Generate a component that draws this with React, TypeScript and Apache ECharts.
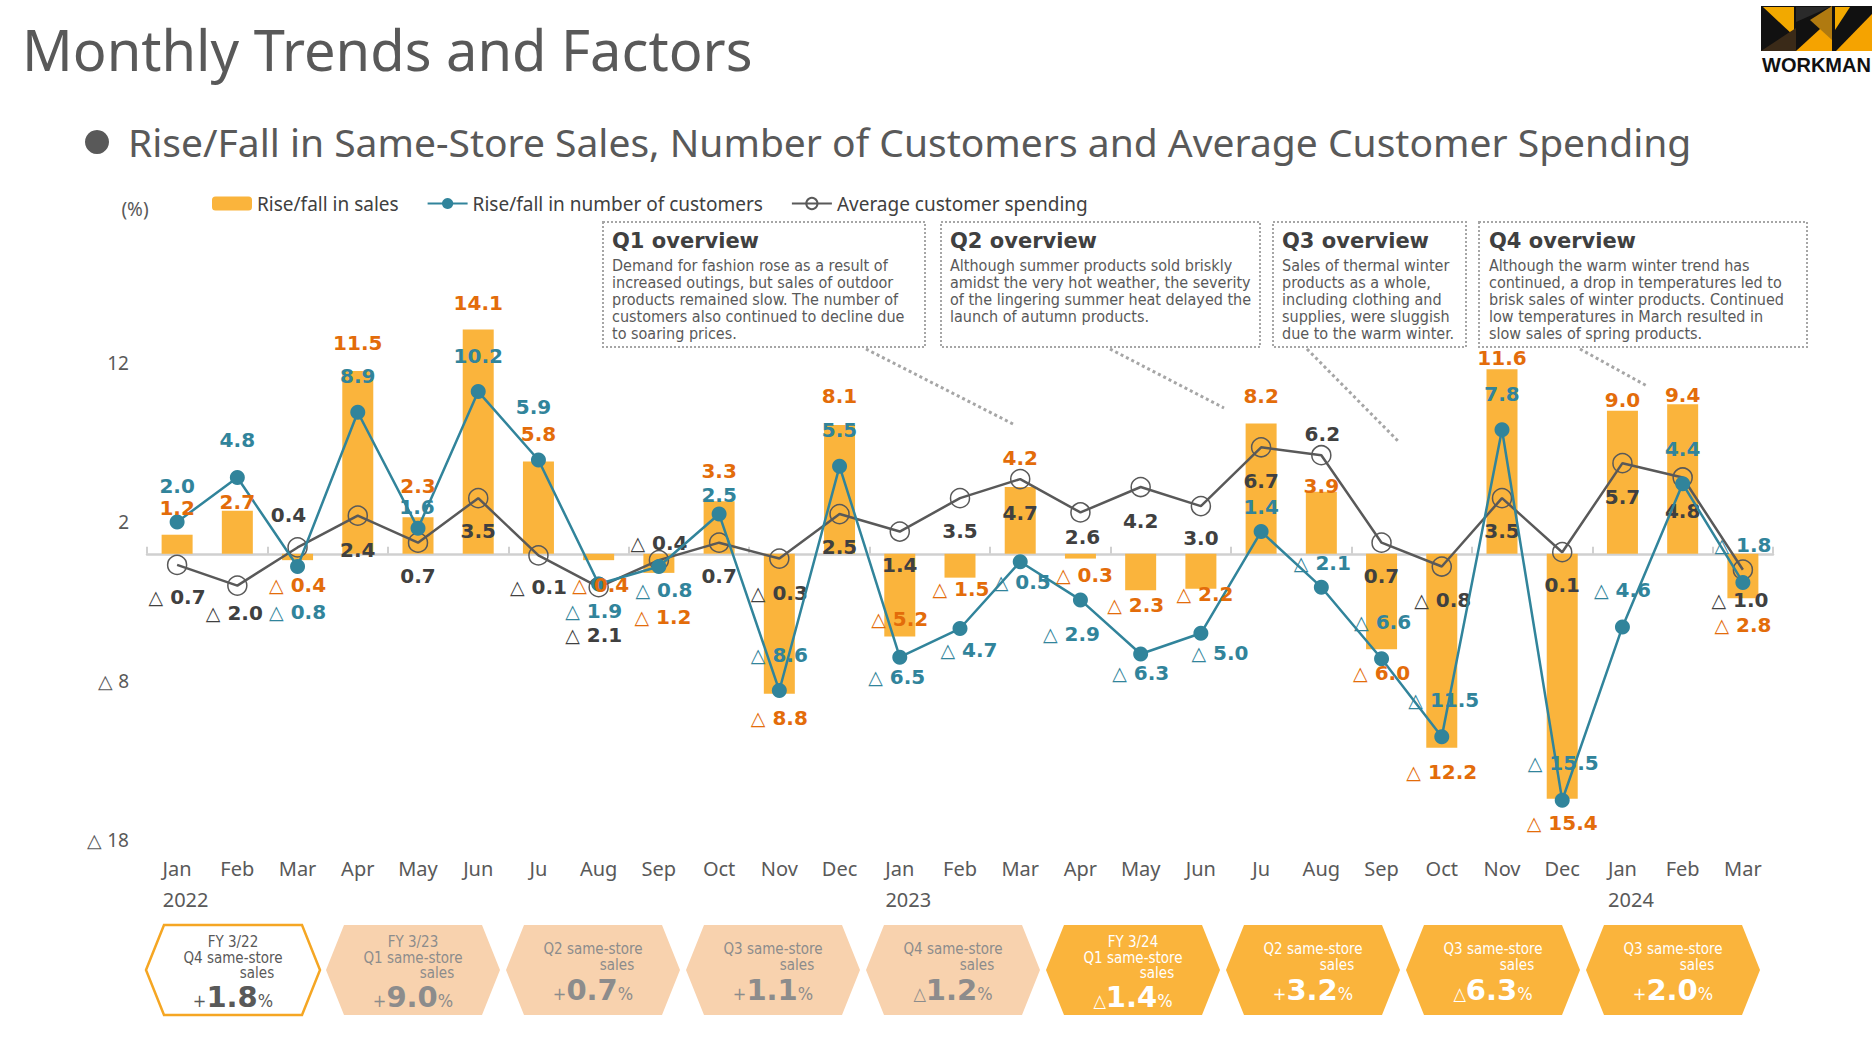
import React, { useEffect, useRef } from "react";
import * as echarts from "echarts";

// ---------- DATA ----------
const months = ["Jan","Feb","Mar","Apr","May","Jun","Ju","Aug","Sep","Oct","Nov","Dec","Jan","Feb","Mar","Apr","May","Jun","Ju","Aug","Sep","Oct","Nov","Dec","Jan","Feb","Mar"];
const years = ["2022", "2023", "2024"];
const salesChange = [1.2, 2.7, -0.4, 11.5, 2.3, 14.1, 5.8, -0.4, -1.2, 3.3, -8.8, 8.1, -5.2, -1.5, 4.2, -0.3, -2.3, -2.2, 8.2, 3.9, -6.0, -12.2, 11.6, -15.4, 9.0, 9.4, -2.8];
const customersChange = [2.0, 4.8, -0.8, 8.9, 1.6, 10.2, 5.9, -1.9, -0.8, 2.5, -8.6, 5.5, -6.5, -4.7, -0.5, -2.9, -6.3, -5.0, 1.4, -2.1, -6.6, -11.5, 7.8, -15.5, -4.6, 4.4, -1.8];
const avgSpending = [-0.7, -2.0, 0.4, 2.4, 0.7, 3.5, -0.1, -2.1, -0.4, 0.7, -0.3, 2.5, 1.4, 3.5, 4.7, 2.6, 4.2, 3.0, 6.7, 6.2, 0.7, -0.8, 3.5, 0.1, 5.7, 4.8, -1.0];
const yTicks = { min: -18, max: 22, interval: 10 };

const hexTopLines = ["FY 3/22", "FY 3/23", "", "", "", "FY 3/24", "", "", ""];
const hexQuarters = ["Q4 same-store", "Q1 same-store", "Q2 same-store", "Q3 same-store", "Q4 same-store", "Q1 same-store", "Q2 same-store", "Q3 same-store", "Q3 same-store"];
const hexValues = [1.8, 9.0, 0.7, 1.1, -1.2, -1.4, 3.2, -6.3, 2.0];

const qTitles = ["Q1 overview", "Q2 overview", "Q3 overview", "Q4 overview"];
const qBodies = [
  ["Demand for fashion rose as a result of", "increased outings, but sales of outdoor", "products remained slow. The number of", "customers also continued to decline due", "to soaring prices."],
  ["Although summer products sold briskly", "amidst the very hot weather, the severity", "of the lingering summer heat delayed the", "launch of autumn products."],
  ["Sales of thermal winter", "products as a whole,", "including clothing and", "supplies, were sluggish", "due to the warm winter."],
  ["Although the warm winter trend has", "continued, a drop in temperatures led to", "brisk sales of winter products. Continued", "low temperatures in March resulted in", "slow sales of spring products."],
];

// ---------- LAYOUT (label offsets in px, relative to each point) ----------
const salesLabelDx = [0,0,0,0,0,0,0,2,4,0,0,0,0,1,0,4,-5,4,0,0,0,0,0,0,0,0,0];
const salesLabelDy = [-27,-9,25,-28,-31,-27,-28,25,44,-30,24,-29,-17,11,-29,16,15,5,-27,-6,24,24,-11,24,-11,-9,27];
const custLabelDx = [0,0,0,0,-1,0,-5,-5,5,0,0,0,-3,9,2,-9,0,19,0,1,1,2,0,1,0,0,0];
const custLabelDy = [-36,-37,45,-36,-21,-36,-53,27,23,-19,-36,-36,20,21,20,34,19,20,-25,-24,-37,-37,-36,-37,-37,-35,-37];
const avgLabelDx = [0,-3,-9,0,0,0,0,-5,0,0,0,0,0,0,0,2,0,0,0,1,0,1,0,0,0,0,-3];
const avgLabelDy = [32,27,-32,34,33,33,32,48,-17,33,34,33,33,33,34,25,34,32,34,-21,33,33,33,33,34,34,30];

const qBoxes = [
  { x: 603, w: 322, tx: 612 },
  { x: 941, w: 319, tx: 950 },
  { x: 1273, w: 193, tx: 1282 },
  { x: 1479, w: 328, tx: 1489 },
];
const leaders = [
  [866, 349, 1015, 425],
  [1110, 349, 1224, 408],
  [1307, 349, 1399, 442],
  [1580, 349, 1647, 386],
];

const C_BAR = "#FAB43C";
const C_SALES = "#E36C0A";
const C_CUST = "#31849B";
const C_AVG = "#595959";
const C_AVG_LBL = "#404040";
const C_TEXT = "#595959";
const LBL_FONT = "'DejaVu Sans', Verdana, sans-serif";
const BODY_FONT = "'DejaVu Sans Condensed', 'DejaVu Sans', sans-serif";
const UI_FONT = "'Noto Sans', 'Open Sans', sans-serif";

function fmtVal(v: number) {
  return v < 0 ? `{t|△} ${Math.abs(v).toFixed(1)}` : v.toFixed(1);
}

function labelStyle(color: string) {
  return {
    show: true,
    position: "inside",
    color,
    opacity: 1,
    fontFamily: LBL_FONT,
    fontWeight: "bold",
    fontSize: 20,
    formatter: (p: any) => fmtVal(typeof p.value === "number" ? p.value : Number(p.value)),
    rich: { t: { color, fontWeight: "normal", fontSize: 19, fontFamily: LBL_FONT } },
  };
}

function buildGraphics() {
  const g: any[] = [];
  // Title
  g.push({ type: "text", x: 22, y: 49, style: { text: "Monthly Trends and Factors", fontFamily: UI_FONT, fontSize: 56, fill: C_TEXT, verticalAlign: "middle" } });
  // Orange underline
  g.push({
    type: "line", shape: { x1: 10, y1: 87, x2: 1872, y2: 87 },
    style: { lineWidth: 2.5, stroke: new echarts.graphic.LinearGradient(0, 0, 1, 0, [
      { offset: 0, color: "#F0900C" }, { offset: 0.7, color: "#F39A22" }, { offset: 1, color: "#FFF4E8" }]) },
  });
  // Logo
  g.push({ type: "rect", shape: { x: 1761, y: 6, width: 111, height: 45 }, style: { fill: "#111" } });
  g.push({ type: "polygon", shape: { points: [[1763, 7], [1794, 7], [1794, 36]] }, style: { fill: "#F2A900" } });
  g.push({ type: "polygon", shape: { points: [[1761, 51], [1796, 28], [1796, 51]] }, style: { fill: "#3A2A18" } });
  g.push({ type: "polygon", shape: { points: [[1796, 51], [1832, 18], [1832, 51]] }, style: { fill: "#F5A300" } });
  g.push({ type: "polygon", shape: { points: [[1810, 20], [1832, 6], [1832, 40]] }, style: { fill: "#B07A10" } });
  g.push({ type: "polygon", shape: { points: [[1835, 7], [1850, 7], [1835, 30]] }, style: { fill: "#F2A900" } });
  g.push({ type: "polygon", shape: { points: [[1836, 51], [1872, 14], [1872, 51]] }, style: { fill: "#F5A300" } });
  g.push({ type: "polygon", shape: { points: [[1796, 7], [1830, 7], [1796, 22]] }, style: { fill: "#2A2A2A" } });
  g.push({ type: "text", x: 1762, y: 75, style: { text: "WORKMAN", fontFamily: "'Liberation Sans', Arial, sans-serif", fontWeight: "bold", fontSize: 20, fill: "#111", verticalAlign: "bottom" } });
  // Subtitle
  g.push({ type: "circle", shape: { cx: 97, cy: 142, r: 12 }, style: { fill: C_TEXT } });
  g.push({ type: "text", x: 128, y: 141, style: { text: "Rise/Fall in Same-Store Sales, Number of Customers and Average Customer Spending", fontFamily: UI_FONT, fontSize: 39, fill: C_TEXT, verticalAlign: "middle" } });
  // (%)
  g.push({ type: "text", x: 135, y: 209, style: { text: "(%)", fontFamily: UI_FONT, fontSize: 19, fill: C_TEXT, align: "center", verticalAlign: "middle" } });
  // Overview boxes
  qBoxes.forEach((b, i) => {
    g.push({ type: "rect", shape: { x: b.x, y: 222, width: b.w, height: 125 }, style: { fill: "#fff", stroke: "#A6A6A6", lineWidth: 2, lineDash: [2, 2] }, z: 10 });
    g.push({ type: "text", x: b.tx, y: 241, z: 11, style: { text: qTitles[i], fontFamily: LBL_FONT, fontWeight: "bold", fontSize: 21, fill: "#404040", verticalAlign: "middle" } });
    g.push({ type: "text", x: b.tx, y: 257, z: 11, style: { text: qBodies[i].join("\n"), fontFamily: BODY_FONT, fontSize: 16, lineHeight: 17, fill: C_TEXT, verticalAlign: "top" } });
  });
  leaders.forEach((l) => {
    g.push({ type: "line", z: 9, shape: { x1: l[0], y1: l[1], x2: l[2], y2: l[3] }, style: { stroke: "#A6A6A6", lineWidth: 3, lineDash: [3, 3] } });
  });
  // Hexagons
  const cy = 970, hw = 87, hh = 45, inset = 18;
  hexValues.forEach((v, i) => {
    const cx = 233 + i * 180;
    const kind = i === 0 ? "outline" : i < 5 ? "peach" : "orange";
    const fill = kind === "outline" ? "#fff" : kind === "peach" ? "#F8D2AE" : C_BAR;
    const stroke = kind === "outline" ? "#F5A623" : "none";
    const tcol = kind === "outline" ? "#595959" : kind === "peach" ? "#8C8C8C" : "#fff";
    g.push({
      type: "polygon",
      shape: { points: [[cx - hw, cy], [cx - hw + inset, cy - hh], [cx + hw - inset, cy - hh], [cx + hw, cy], [cx + hw - inset, cy + hh], [cx - hw + inset, cy + hh]] },
      style: { fill, stroke, lineWidth: 2.5 },
    });
    const three = hexTopLines[i] !== "";
    const base = three ? -28 : -21;
    const small = { fontFamily: BODY_FONT, fontSize: 15, fill: tcol, align: "center", verticalAlign: "middle" };
    if (three) g.push({ type: "text", x: cx, y: cy + base, style: { ...small, text: hexTopLines[i] } });
    g.push({ type: "text", x: cx, y: cy + base + (three ? 16 : 0), style: { ...small, text: hexQuarters[i] } });
    g.push({ type: "text", x: cx + 24, y: cy + base + (three ? 31 : 16), style: { ...small, text: "sales" } });
    const sign = v < 0 ? "△" : "+";
    g.push({
      type: "text", x: cx, y: cy + (three ? 27 : 20),
      style: {
        text: `{s|${sign}}{b|${Math.abs(v).toFixed(1)}}{p|%}`,
        align: "center", verticalAlign: "middle", fill: tcol,
        rich: {
          s: { fontFamily: BODY_FONT, fontSize: 18, fill: tcol, verticalAlign: "bottom", padding: [0, 0, 2, 0] },
          b: { fontFamily: LBL_FONT, fontWeight: "bold", fontSize: 29, fill: tcol, verticalAlign: "bottom" },
          p: { fontFamily: BODY_FONT, fontSize: 18, fill: tcol, verticalAlign: "bottom", padding: [0, 0, 2, 0] },
        },
      },
    });
  });
  return g;
}

export default function App() {
  const ref = useRef<HTMLDivElement>(null);
  useEffect(() => {
    document.body.style.margin = "0";
    document.body.style.overflow = "hidden";
    const chart = echarts.init(ref.current!, null, { renderer: "svg" });
    const categories = months.map((m, i) => (i % 12 === 0 ? `{m|${m}}\n{y|${years[i / 12]}}` : `{m|${m}}`));
    const option: any = {
      animation: false,
      backgroundColor: "#fff",
      textStyle: { fontFamily: UI_FONT },
      legend: {
        left: 207, top: 189, itemWidth: 40, itemHeight: 14, itemGap: 28,
        textStyle: { fontSize: 19, color: "#404040", fontFamily: UI_FONT },
        data: ["Rise/fall in sales", "Rise/fall in number of customers", "Average customer spending"],
      },
      grid: { left: 147, width: 1626, top: 204, height: 636 },
      xAxis: [
        {
          type: "category", data: categories, position: "bottom",
          axisLine: { onZero: true, lineStyle: { color: "#D0D0D0", width: 2.5 } },
          axisTick: { show: true, inside: true, length: 7, lineStyle: { color: "#D0D0D0", width: 2 } },
          axisLabel: { show: false }, splitLine: { show: false },
        },
        {
          type: "category", data: categories, position: "bottom",
          axisLine: { show: false, onZero: false }, axisTick: { show: false },
          axisLabel: {
            interval: 0, margin: 13, color: C_TEXT,
            rich: {
              m: { fontSize: 20, lineHeight: 31, color: C_TEXT, fontFamily: UI_FONT },
              y: { fontSize: 20, lineHeight: 31, color: C_TEXT, fontFamily: UI_FONT, padding: [0, 0, 0, 17] },
            },
          },
        },
      ],
      yAxis: {
        type: "value", min: yTicks.min, max: yTicks.max, interval: yTicks.interval,
        axisLine: { show: false }, axisTick: { show: false }, splitLine: { show: false },
        axisLabel: {
          margin: 18, color: C_TEXT, fontSize: 19, fontFamily: UI_FONT,
          formatter: (v: number) => (v === yTicks.max ? "" : v < 0 ? `△ ${-v}` : String(v)),
        },
      },
      series: [
        {
          name: "Rise/fall in sales", type: "bar", data: salesChange, barWidth: 31, z: 2,
          itemStyle: { color: C_BAR },
        },
        {
          name: "Average customer spending", type: "line", z: 3,
          data: avgSpending.map((v, i) => ({ value: v, label: { offset: [avgLabelDx[i], avgLabelDy[i]] } })),
          symbol: "circle", symbolSize: 19,
          lineStyle: { color: C_AVG, width: 2.5 },
          itemStyle: { color: "rgba(255,255,255,0)", borderColor: C_AVG, borderWidth: 1.5 },
          label: labelStyle(C_AVG_LBL),
        },
        {
          name: "Rise/fall in number of customers", type: "line", z: 4,
          data: customersChange.map((v, i) => ({ value: v, label: { offset: [custLabelDx[i], custLabelDy[i]] } })),
          symbol: "circle", symbolSize: 15,
          lineStyle: { color: C_CUST, width: 2.5 },
          itemStyle: { color: C_CUST },
          label: labelStyle(C_CUST),
        },
        {
          name: "salesLabels", type: "scatter", z: 5, silent: true,
          data: salesChange.map((v, i) => ({ value: v, label: { offset: [salesLabelDx[i], salesLabelDy[i]] } })),
          symbol: "circle", symbolSize: 2, itemStyle: { color: "rgba(0,0,0,0)" },
          label: labelStyle(C_SALES),
        },
      ],
      graphic: buildGraphics(),
    };
    chart.setOption(option);
    return () => chart.dispose();
  }, []);
  return <div ref={ref} style={{ width: 1872, height: 1057 }} />;
}
